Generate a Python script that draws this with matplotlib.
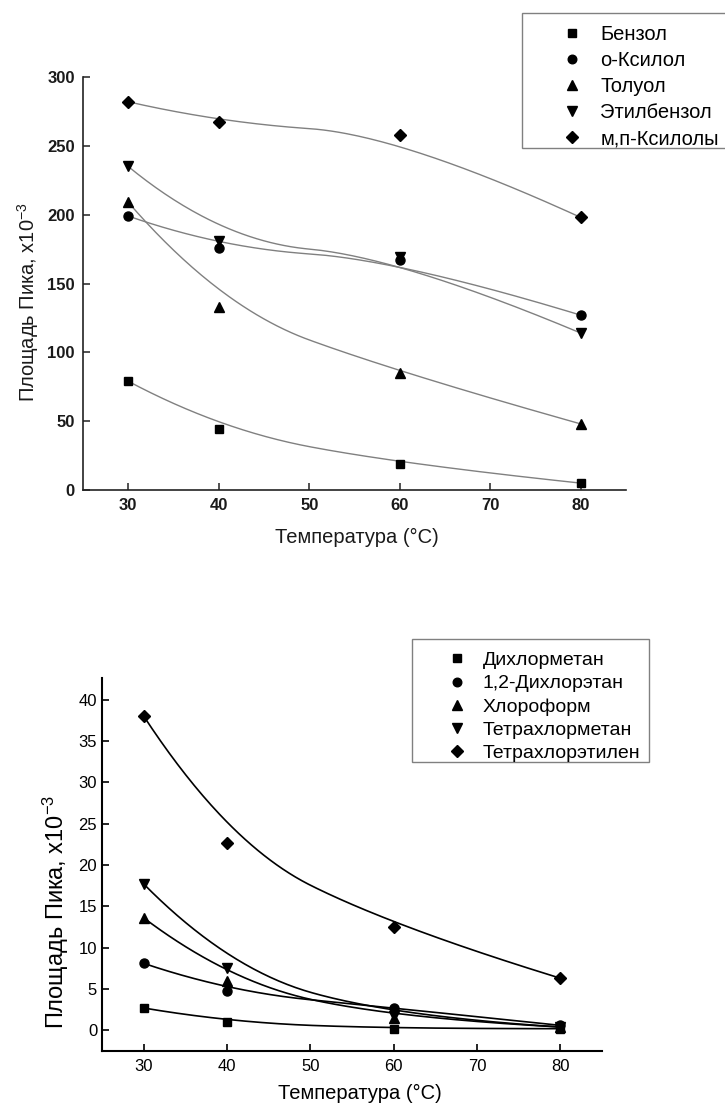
import numpy as np
import matplotlib
matplotlib.use("Agg")
import matplotlib.pyplot as plt
from matplotlib.lines import Line2D
from matplotlib.patches import Rectangle

plt.rcParams['font.family'] = ['Liberation Sans', 'DejaVu Sans']
plt.rcParams['mathtext.default'] = 'regular'

# ---------------- data ----------------
temps = [30, 40, 60, 80]
xticks = [30, 40, 50, 60, 70, 80]

top_labels = ['Бензол', 'о-Ксилол', 'Толуол', 'Этилбензол', 'м,п-Ксилолы']
benzene = [79, 44, 19, 5]
o_xylene = [199, 176, 167, 127]
toluene = [209, 133, 85, 48]
ethylbenzene = [235, 181, 169, 114]
mp_xylenes = [282, 267, 258, 198]
top_yticks = [0, 50, 100, 150, 200, 250, 300]

bottom_labels = ['Дихлорметан', '1,2-Дихлорэтан', 'Хлороформ', 'Тетрахлорметан', 'Тетрахлорэтилен']
dichloromethane = [2.7, 1.0, 0.2, 0.2]
dichloroethane = [8.1, 4.7, 2.7, 0.6]
chloroform = [13.6, 6.0, 1.5, 0.4]
tetrachloromethane = [17.7, 7.5, 1.7, 0.4]
tetrachloroethylene = [38.0, 22.6, 12.5, 6.3]
bottom_yticks = [0, 5, 10, 15, 20, 25, 30, 35, 40]

markers = ['s', 'o', '^', 'v', 'D']
msizes = [6, 6.5, 7, 7, 6]

xlabel = 'Температура (°C)'
ylabel = 'Площадь Пика, x10$^{-3}$'


def bspline2(x, y, n=80):
    """Quadratic clamped B-spline using data points as control points."""
    P = np.column_stack([x, y]).astype(float)
    m = len(P)
    t = np.linspace(0, 1, n)[:, None]
    segs = []
    for i in range(m - 2):
        a = P[i] if i == 0 else (P[i] + P[i + 1]) / 2
        c = P[i + 2] if i == m - 3 else (P[i + 1] + P[i + 2]) / 2
        b = P[i + 1]
        segs.append((1 - t) ** 2 * a + 2 * t * (1 - t) * b + t ** 2 * c)
    pts = np.vstack(segs)
    return pts[:, 0], pts[:, 1]


W, H = 725, 1103
fig = plt.figure(figsize=(W / 100, H / 100), dpi=100)


def frac(l, t, r, b):
    return [l / W, 1 - b / H, (r - l) / W, (b - t) / H]


def frame_box(l, t, r, b):
    fig.add_artist(Rectangle((l / W, 1 - b / H), (r - l) / W, (b - t) / H,
                             transform=fig.transFigure, fill=True, facecolor='white',
                             edgecolor='#808080', lw=1.0, zorder=5))


# ---------------- top chart ----------------
ax1 = fig.add_axes(frac(83, 77, 626, 490))
top_series = [benzene, o_xylene, toluene, ethylbenzene, mp_xylenes]
for vals, mk, ms in zip(top_series, markers, msizes):
    cx, cy = bspline2(temps, vals)
    ax1.plot(cx, cy, color='#808080', lw=1.0, zorder=2)
    ax1.plot(temps, vals, linestyle='none', marker=mk, ms=ms, color='black', zorder=3)
ax1.set_xlim(25, 85)
ax1.set_ylim(0, 300)
ax1.set_xticks(xticks)
ax1.set_yticks(top_yticks)
for s in ['top', 'right']:
    ax1.spines[s].set_visible(False)
for s in ['left', 'bottom']:
    ax1.spines[s].set_linewidth(1.2)
    ax1.spines[s].set_color('#222222')
ax1.tick_params(direction='in', length=5, width=1.1, color='#222222')
ax1.tick_params(axis='y', pad=6)
ax1.tick_params(axis='x', pad=6)
for lab in ax1.get_xticklabels() + ax1.get_yticklabels():
    lab.set_fontsize(12)
    lab.set_fontweight('bold')
    lab.set_color('#1a1a1a')
ax1.set_xlabel(xlabel, fontsize=14.5, color='#1a1a1a')
ax1.set_ylabel(ylabel, fontsize=14.5, color='#1a1a1a')
ax1.xaxis.set_label_coords(0.505, -0.093)
ax1.yaxis.set_label_coords(-0.077, 0.455)

frame_box(522, 13, 727, 148)
handles1 = [Line2D([], [], linestyle='none', marker=mk, ms=ms * 0.95, color='black')
            for mk, ms in zip(markers, msizes)]
leg1 = fig.legend(handles1, top_labels, loc='upper left',
                  bbox_to_anchor=(522 / W, 1 - 14 / H), bbox_transform=fig.transFigure,
                  borderaxespad=0, fontsize=14.5, frameon=False, borderpad=0.54,
                  handlelength=3.9, handletextpad=-0.55, labelspacing=0.35)
leg1.set_zorder(6)

# ---------------- bottom chart ----------------
ax2 = fig.add_axes(frac(102, 678, 602, 1051))
bottom_series = [dichloromethane, dichloroethane, chloroform, tetrachloromethane, tetrachloroethylene]
for vals, mk, ms in zip(bottom_series, markers, msizes):
    cx, cy = bspline2(temps, vals)
    ax2.plot(cx, cy, color='black', lw=1.2, zorder=2)
    ax2.plot(temps, vals, linestyle='none', marker=mk, ms=ms, color='black', zorder=3)
ax2.set_xlim(25, 85)
ax2.set_ylim(-2.5, 42.6)
ax2.set_xticks(xticks)
ax2.set_yticks(bottom_yticks)
for s in ['top', 'right']:
    ax2.spines[s].set_visible(False)
for s in ['left', 'bottom']:
    ax2.spines[s].set_linewidth(1.5)
ax2.tick_params(direction='in', length=5, width=1.2, labelsize=12)
ax2.tick_params(axis='y', pad=3.5)
ax2.tick_params(axis='x', pad=6)
ax2.set_xlabel(xlabel, fontsize=14.5)
ax2.set_ylabel(ylabel, fontsize=17)
ax2.xaxis.set_label_coords(0.515, -0.088)
ax2.yaxis.set_label_coords(-0.062, 0.373)

frame_box(412, 639, 649, 762)
handles2 = [Line2D([], [], linestyle='none', marker=mk, ms=ms * 0.95, color='black')
            for mk, ms in zip(markers, msizes)]
leg2 = fig.legend(handles2, bottom_labels, loc='upper left',
                  bbox_to_anchor=(412 / W, 1 - 640 / H), bbox_transform=fig.transFigure,
                  borderaxespad=0, fontsize=14, frameon=False, borderpad=0.6,
                  handlelength=3.43, handletextpad=-0.38, labelspacing=0.283)
leg2.set_zorder(6)

fig.savefig('out.png', dpi=100)
